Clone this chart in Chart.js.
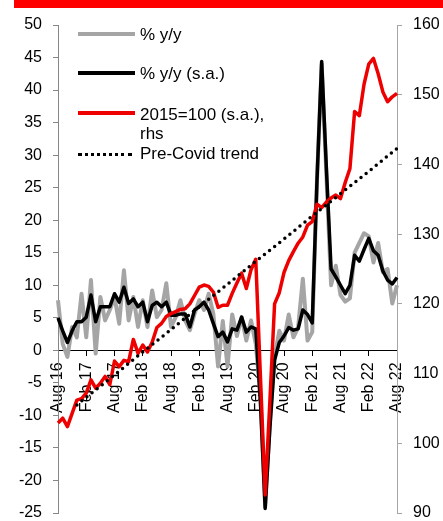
<!DOCTYPE html>
<html>
<head>
<meta charset="utf-8">
<script src="https://cdn.jsdelivr.net/npm/chart.js@4.4.0/dist/chart.umd.min.js"></script>
<style>
  html, body { margin: 0; padding: 0; background: #fff; }
  #wrap { position: relative; width: 443px; height: 521px; font-family: "Liberation Sans", Arial, sans-serif; }
  #topBar { position: absolute; left: 14px; top: 0; width: 429px; height: 8px; background: #f00; }
  .swatch { position: absolute; left: 78px; width: 57px; }
  .lbl { position: absolute; left: 140px; font-size: 17px; line-height: 19px; color: #000; white-space: nowrap; }
</style>
</head>
<body>
<div id="wrap">
  <canvas id="chart"></canvas>
  <div id="topBar"></div>
  <div class="swatch" style="top:32px;height:4px;background:#a5a5a5"></div>
  <div class="lbl" style="top:25px">% y/y</div>
  <div class="swatch" style="top:71px;height:4px;background:#000"></div>
  <div class="lbl" style="top:64px">% y/y (s.a.)</div>
  <div class="swatch" style="top:111px;height:4px;background:#ee0000"></div>
  <div class="lbl" style="top:105px">2015=100 (s.a.),<br>rhs</div>
  <div class="swatch" style="top:153px;height:0;border-top:3px dotted #000;width:54px"></div>
  <div class="lbl" style="top:144px">Pre-Covid trend</div>
</div>
<script>
// monthly, Aug 2016 .. Aug 2022
const monthNames = ['Jan','Feb','Mar','Apr','May','Jun','Jul','Aug','Sep','Oct','Nov','Dec'];
const categories = [];
for (let k = 0; k < 73; k++) {
  const m = (7 + k) % 12;
  const yr = 16 + Math.floor((7 + k) / 12);
  categories.push(monthNames[m] + ' ' + yr);
}
const tickLabels = ['Aug 16','Feb 17','Aug 17','Feb 18','Aug 18','Feb 19','Aug 19',
                    'Feb 20','Aug 20','Feb 21','Aug 21','Feb 22','Aug 22'];

// % y/y (not s.a.)
const yoy = [7.7, 1.0, -1.0, 3.6, 2.0, 8.7, 2.0, 10.8, -0.5, 8.2, 4.6, 6.2,
             8.2, 4.1, 12.3, 4.6, 8.2, 3.6, 7.7, 3.6, 9.2, 5.1, 6.2, 10.3,
             3.6, 5.1, 7.7, 4.6, 3.1, 5.6, 7.7, 6.2, 8.7, 5.6, -2.5, 4.5,
             -2.5, 5.5, 2.2, 5.1, 1.5, 4.6, 1.0, -7.0, -24.0, -11.0, -1.0, 3.0,
             1.5, 5.5, 2.0, 3.5, 11.0, 1.5, 2.8, 26.0, 44.0, 27.0, 10.0, 13.0,
             8.5, 7.5, 8.0, 15.0, 16.5, 18.0, 17.5, 13.5, 16.5, 12.0, 12.5, 7.2,
             10.0];

// % y/y (s.a.)
const yoySa = [5.0, 3.0, 1.2, 3.0, 4.4, 4.4, 5.1, 8.5, 4.4, 6.7, 6.7, 6.7,
               8.7, 7.4, 9.7, 7.2, 7.9, 6.7, 7.4, 4.4, 6.9, 7.4, 6.7, 7.4,
               5.4, 5.4, 5.6, 5.6, 3.6, 6.2, 6.7, 7.4, 6.2, 4.1, 2.1, 2.8,
               1.3, 3.3, 3.1, 5.1, 2.8, 3.6, 3.3, -8.0, -24.3, -12.0, -1.5, 1.2,
               2.2, 3.5, 3.1, 3.3, 6.2, 5.5, 4.2, 26.0, 44.4, 28.0, 12.5, 11.3,
               10.0, 8.7, 10.0, 14.6, 13.7, 15.5, 17.2, 15.3, 14.6, 12.2, 10.8, 10.2,
               11.2];

// index 2015=100 (s.a.), rhs
const index2015 = [102.9, 103.6, 102.4, 104.3, 106.2, 106.4, 107.2, 109.1, 107.9, 108.6, 109.6, 108.4,
                   111.8, 111.0, 111.9, 111.7, 114.9, 112.9, 114.1, 113.1, 114.5, 116.6, 117.2, 118.2,
                   118.6, 118.9, 119.2, 119.3, 120.0, 121.2, 122.4, 122.7, 122.5, 121.7, 119.5, 119.8,
                   119.8, 121.5, 123.0, 124.4, 122.2, 124.9, 126.4, 109.5, 92.6, 106.0, 120.0, 121.6,
                   124.5, 126.2, 127.5, 128.7, 129.6, 131.3, 131.8, 134.3, 133.8, 134.6, 135.2, 135.6,
                   135.1, 137.4, 139.4, 147.6, 147.0, 151.5, 154.4, 155.2, 153.0, 150.4, 149.0, 149.7,
                   150.2];

// pre-Covid trend, read at half-year points (straight between them)
const trend = [null, null, null, null, 105.5, null, 106.6, null, null, null, null, null,
               109.8, null, null, null, null, null, 113.1, null, null, null, null, null,
               116.3, null, null, null, null, null, 119.6, null, null, null, null, null,
               122.8, null, null, null, null, null, 126.1, null, null, null, null, null,
               129.3, null, null, null, null, null, 132.6, null, null, null, null, null,
               135.8, null, null, null, null, null, 139.0, null, null, null, null, null,
               142.3];

const font = { family: '"Liberation Sans", Arial, sans-serif', size: 16 };

// fixed axis widths, and no extra room for the end labels
function fixAxis(width) {
  return s => {
    s.width = width;
    s.paddingTop = 0;
    s.paddingBottom = 0;
  };
}

new Chart(document.getElementById('chart'), {
  type: 'line',
  data: {
    labels: categories,
    datasets: [
      { label: '% y/y', data: yoy, yAxisID: 'y', borderColor: '#a5a5a5', borderWidth: 4, order: 3 },
      { label: '% y/y (s.a.)', data: yoySa, yAxisID: 'y', borderColor: '#000', borderWidth: 3.5, order: 2 },
      { label: '2015=100 (s.a.), rhs', data: index2015, yAxisID: 'y2', borderColor: '#ee0000', borderWidth: 3.5, order: 1 },
      { label: 'Pre-Covid trend', data: trend, yAxisID: 'y2', borderColor: '#000', borderWidth: 3.5,
        borderDash: [0, 6.5], borderCapStyle: 'round', spanGaps: true, order: 0 }
    ]
  },
  options: {
    responsive: true,
    maintainAspectRatio: false,
    animation: false,
    layout: { padding: { top: 25, bottom: 8, left: 0, right: 0 } },
    elements: {
      point: { radius: 0 },
      line: { tension: 0, fill: false, borderJoinStyle: 'round' }
    },
    plugins: {
      legend: { display: false },
      tooltip: { enabled: false }
    },
    scales: {
      x: {
        type: 'category',
        position: { y: 0 },
        offset: false,
        grid: {
          drawOnChartArea: false,
          tickLength: 5,
          tickColor: c => (c.index % 6 === 0 ? '#000' : 'rgba(0,0,0,0)')
        },
        border: { color: '#000', width: 1 },
        ticks: {
          autoSkip: false,
          minRotation: 90,
          maxRotation: 90,
          padding: 7,
          color: '#000',
          font,
          callback: (v, i) => (i % 6 === 0 ? tickLabels[i / 6] : '')
        }
      },
      y: {
        position: 'left',
        min: -25,
        max: 50,
        ticks: { stepSize: 5, padding: 11, color: '#000', font },
        grid: { drawOnChartArea: false, tickLength: 5, tickColor: '#868686' },
        border: { color: '#868686', width: 1 },
        afterFit: fixAxis(58)
      },
      y2: {
        position: 'right',
        min: 90,
        max: 160,
        ticks: { stepSize: 10, padding: 11, color: '#000', font },
        grid: { drawOnChartArea: false, tickLength: 5, tickColor: '#a6a6a6' },
        border: { color: '#a6a6a6', width: 1 },
        afterFit: fixAxis(46)
      }
    }
  }
});
</script>
</body>
</html>
